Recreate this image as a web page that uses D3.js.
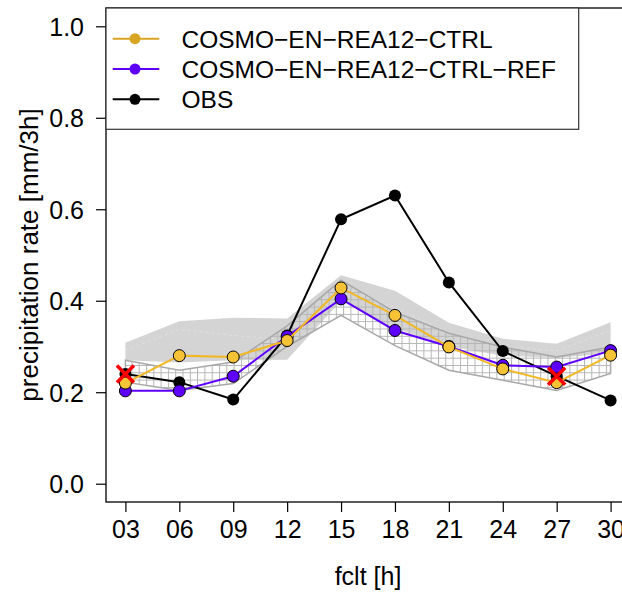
<!DOCTYPE html>
<html lang="en">
<head>
<meta charset="UTF-8">
<title>precipitation rate</title>
<script src="https://cdnjs.cloudflare.com/ajax/libs/d3/7.8.5/d3.min.js"></script>
<style>
  body { margin: 0; background: #fff; }
  svg text { font-family: "Liberation Sans", Arial, Helvetica, sans-serif; fill: #000; }
</style>
</head>
<body>
<div id="chart"></div>
<script>
// forecast lead times and labels
var fclt = [3, 6, 9, 12, 15, 18, 21, 24, 27, 30];
var fcltLabels = ["03", "06", "09", "12", "15", "18", "21", "24", "27", "30"];
var yTicks = [0.0, 0.2, 0.4, 0.6, 0.8, 1.0];

// series means
var ctrl = [0.220, 0.280, 0.277, 0.313, 0.428, 0.368, 0.299, 0.251, 0.221, 0.281];
var ref  = [0.203, 0.203, 0.235, 0.322, 0.404, 0.335, 0.300, 0.259, 0.255, 0.291];
var obs  = [0.240, 0.222, 0.184, 0.324, 0.578, 0.630, 0.440, 0.290, 0.235, 0.182];
// obs points marked with a red cross
var obsFlag = [true, false, false, false, false, false, false, false, true, false];

// spread of CTRL (solid grey band) and REF (hatched band)
var ctrlUpper = [0.308, 0.355, 0.363, 0.361, 0.456, 0.422, 0.352, 0.317, 0.306, 0.353];
var ctrlLower = [0.270, 0.265, 0.270, 0.271, 0.400, 0.340, 0.300, 0.280, 0.275, 0.285];
var ctrlMid   = [0.292, 0.337, 0.324, 0.315, 0.430, 0.385, 0.330, 0.300, 0.290, 0.335];
var refUpper  = [0.270, 0.248, 0.266, 0.345, 0.445, 0.375, 0.329, 0.299, 0.277, 0.299];
var refLower  = [0.222, 0.204, 0.219, 0.300, 0.368, 0.302, 0.248, 0.226, 0.204, 0.241];

var legendNames = ["COSMO\u2212EN\u2212REA12\u2212CTRL", "COSMO\u2212EN\u2212REA12\u2212CTRL\u2212REF", "OBS"];
var legendColors = ["#d9a422", "#5e00ff", "#000000"];

var width = 622, height = 592;
var colCtrlLine = "#f2b824", colCtrlFill = "#f6c236";
var colRef = "#5e00ff";

var svg = d3.select("#chart").append("svg")
    .attr("width", width)
    .attr("height", height);

var x = d3.scaleLinear().domain([1.92, 31.08]).range([106, 630]);
var y = d3.scaleLinear().domain([-0.04, 1.04]).range([502, 8]);

// hatch pattern
var defs = svg.append("defs");
var pat = defs.append("pattern")
    .attr("id", "hatch")
    .attr("patternUnits", "userSpaceOnUse")
    .attr("width", 7.3).attr("height", 7.3);
pat.append("path")
    .attr("d", "M0,0.5 H7.3 M0.5,0 V7.3")
    .attr("stroke", "#b4b4b4")
    .attr("stroke-width", 1);

var idx = d3.range(fclt.length);

var area = function(up, lo) {
    return d3.area()
        .x(function(i) { return x(fclt[i]); })
        .y0(function(i) { return y(lo[i]); })
        .y1(function(i) { return y(up[i]); });
};
var line = function(vals) {
    return d3.line()
        .x(function(i) { return x(fclt[i]); })
        .y(function(i) { return y(vals[i]); });
};

// grey band
svg.append("path").datum(idx)
    .attr("d", area(ctrlUpper, ctrlLower))
    .attr("fill", "#d4d4d4");
svg.append("path").datum(idx)
    .attr("d", line(ctrlMid))
    .attr("fill", "none")
    .attr("stroke", "#e2e2e2")
    .attr("stroke-width", 0.8)
    .attr("stroke-dasharray", "3,3");

// hatched band
svg.append("path").datum(idx)
    .attr("d", area(refUpper, refLower))
    .attr("fill", "url(#hatch)")
    .attr("stroke", "#a8a8a8")
    .attr("stroke-width", 1.5);

// OBS
svg.append("path").datum(idx)
    .attr("d", line(obs))
    .attr("fill", "none")
    .attr("stroke", "#000")
    .attr("stroke-width", 2);
svg.selectAll(".obs").data(idx).enter().append("circle")
    .attr("class", "obs")
    .attr("cx", function(i) { return x(fclt[i]); })
    .attr("cy", function(i) { return y(obs[i]); })
    .attr("r", 6)
    .attr("fill", "#000");

// REF
svg.append("path").datum(idx)
    .attr("d", line(ref))
    .attr("fill", "none")
    .attr("stroke", colRef)
    .attr("stroke-width", 2);
svg.selectAll(".ref").data(idx).enter().append("circle")
    .attr("class", "ref")
    .attr("cx", function(i) { return x(fclt[i]); })
    .attr("cy", function(i) { return y(ref[i]); })
    .attr("r", 6)
    .attr("fill", colRef)
    .attr("stroke", "#000")
    .attr("stroke-width", 1);

// CTRL
svg.append("path").datum(idx)
    .attr("d", line(ctrl))
    .attr("fill", "none")
    .attr("stroke", colCtrlLine)
    .attr("stroke-width", 2);
svg.selectAll(".ctrl").data(idx).enter().append("circle")
    .attr("class", "ctrl")
    .attr("cx", function(i) { return x(fclt[i]); })
    .attr("cy", function(i) { return y(ctrl[i]); })
    .attr("r", 6)
    .attr("fill", colCtrlFill)
    .attr("stroke", "#000")
    .attr("stroke-width", 1);

// red crosses
svg.selectAll(".cross").data(idx.filter(function(i) { return obsFlag[i]; }))
    .enter().append("path")
    .attr("class", "cross")
    .attr("d", function(i) {
        var cx = x(fclt[i]), cy = y(obs[i]), s = 8.5;
        return "M" + (cx - s) + "," + (cy - s) + "L" + (cx + s) + "," + (cy + s) +
               "M" + (cx - s) + "," + (cy + s) + "L" + (cx + s) + "," + (cy - s);
    })
    .attr("stroke", "#ff0000")
    .attr("stroke-width", 3.5)
    .attr("fill", "none");

// box
svg.append("rect")
    .attr("x", 106).attr("y", 8)
    .attr("width", 524).attr("height", 494)
    .attr("fill", "none")
    .attr("stroke", "#000")
    .attr("stroke-width", 1.3);

// y axis
var yAxis = svg.append("g").attr("transform", "translate(106,0)")
    .call(d3.axisLeft(y).tickValues(yTicks).tickFormat(d3.format(".1f")).tickSize(10).tickPadding(12));
yAxis.select(".domain").remove();
yAxis.selectAll("line").attr("stroke", "#000").attr("stroke-width", 1.2);
yAxis.selectAll("text").style("font-size", "25px").attr("dy", "0.36em");

// x axis
var xAxis = svg.append("g").attr("transform", "translate(0,502)")
    .call(d3.axisBottom(x).tickValues(fclt).tickFormat(function(d, i) { return fcltLabels[i]; }).tickSize(10).tickPadding(8));
xAxis.select(".domain").remove();
xAxis.selectAll("line").attr("stroke", "#000").attr("stroke-width", 1.2);
xAxis.selectAll("text").style("font-size", "25px").attr("dy", "0.71em");

// axis titles
svg.append("text")
    .attr("x", 368).attr("y", 585)
    .attr("text-anchor", "middle")
    .style("font-size", "25px")
    .text("fclt [h]");
svg.append("text")
    .attr("transform", "translate(38,255) rotate(-90)")
    .attr("text-anchor", "middle")
    .style("font-size", "26px")
    .text("precipitation rate [mm/3h]");

// legend
var leg = svg.append("g");
leg.append("rect")
    .attr("x", 106).attr("y", 8)
    .attr("width", 472.7).attr("height", 121.3)
    .attr("fill", "#fff")
    .attr("stroke", "#333")
    .attr("stroke-width", 1.2);
var rowY = d3.scalePoint().domain(d3.range(legendNames.length)).range([38.7, 99.3]);
legendNames.forEach(function(name, i) {
    var ly = rowY(i);
    leg.append("line")
        .attr("x1", 112.7).attr("x2", 159.3)
        .attr("y1", ly).attr("y2", ly)
        .attr("stroke", legendColors[i]).attr("stroke-width", 2);
    leg.append("circle")
        .attr("cx", 135).attr("cy", ly).attr("r", 5.5)
        .attr("fill", legendColors[i]);
    leg.append("text")
        .attr("x", 181.5).attr("y", ly)
        .attr("dy", "0.36em")
        .style("font-size", "24.5px")
        .text(name);
});
</script>
</body>
</html>
